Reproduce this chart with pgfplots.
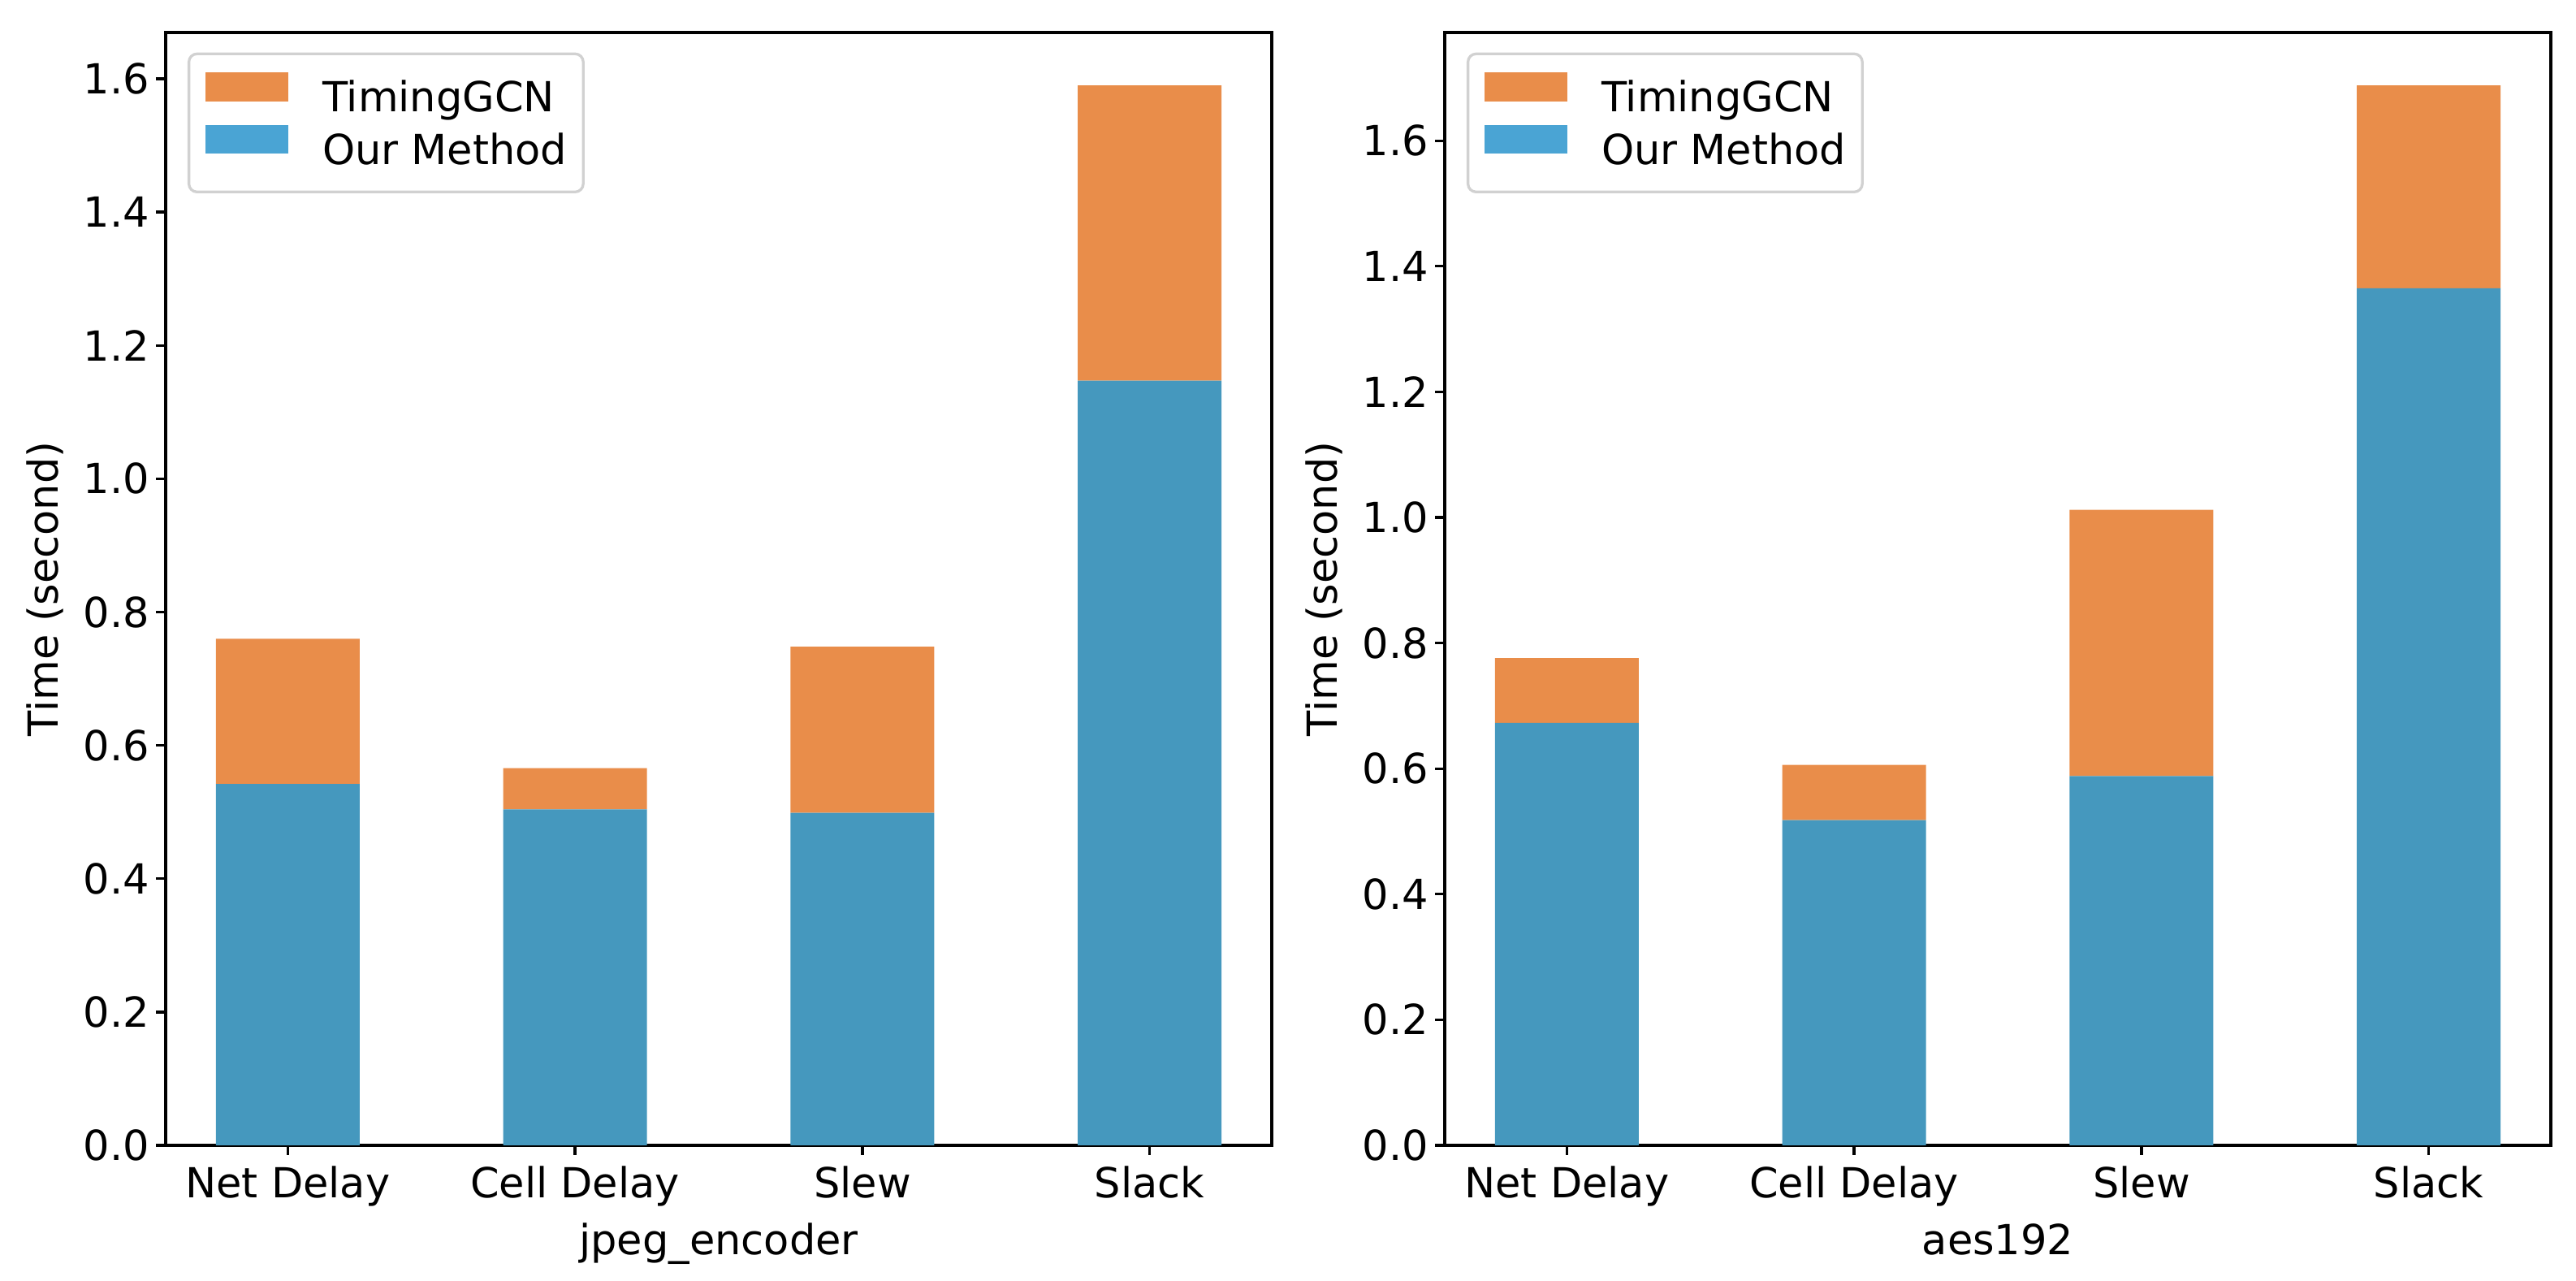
\documentclass[border=0pt]{standalone}
\usepackage{fontspec}
\setmainfont{DejaVu Sans}
\usepackage{pgfplots}
\pgfplotsset{compat=1.18}

\definecolor{ourblue}{HTML}{4598BE}
\definecolor{ourblueL}{HTML}{4AA4D4}
\definecolor{gcnorange}{HTML}{E98D4A}

\pgfplotsset{
    ,patch/.style={legend image code/.code={%
        \fill[##1,draw=none,sharp corners] (0pt,0pt) rectangle (20.4pt,7.1pt);
        \path (28.6pt,0pt);}}
    ,panel/.style={
        ,scale only axis
        ,width=272.4pt,height=274pt
        ,font=\fontsize{10.2}{12}\selectfont
        ,xmin=-0.425,xmax=3.425,ymin=0
        ,ybar stacked,bar width=0.5
        ,xtick={0,1,2,3}
        ,xticklabels={Net Delay,Cell Delay,Slew,Slack}
        ,ytick={0,0.2,0.4,0.6,0.8,1.0,1.2,1.4,1.6}
        ,tick align=outside,xtick pos=bottom,ytick pos=left
        ,major tick length=2.4pt
        ,every tick/.style={black,line width=0.66pt}
        ,axis line style={line width=0.66pt}
        ,xticklabel style={anchor=base,yshift=-10.6pt}
        ,yticklabel style={inner sep=0pt,xshift=-1.4pt,
            /pgf/number format/.cd,fixed,fixed zerofill,precision=1,assume math mode=true}
        ,xlabel style={at={(axis description cs:0.5,-0.0985)},anchor=base}
        ,ylabel style={at={(axis description cs:-0.1094,0.5)},anchor=center}
        ,ylabel={Time (second)}
        ,legend cell align=left
        ,legend style={at={(0.0198,0.982)},anchor=north west,
            draw=black!18,line width=0.66pt,rounded corners=2pt,
            fill=white,inner xsep=4pt,inner ysep=4.6pt,row sep=1pt,
            nodes={inner sep=0pt,text height=7.4pt,text depth=2.2pt}}
        }
    }

\begin{document}
\begin{tikzpicture}
\path[use as bounding box] (-40.8pt,-33.4pt) rectangle (593.6pt,282pt);

\begin{axis}[panel,at={(0pt,0pt)},anchor=south west,
    xlabel={jpeg\_encoder},ymax=1.6695]
\addlegendimage{patch,fill=gcnorange}
\addlegendentry{TimingGCN}
\addlegendimage{patch,fill=ourblueL}
\addlegendentry{Our Method}
% Our Method at the bottom, TimingGCN stacked on it
\addplot[fill=ourblue,draw=none,forget plot] coordinates {(0,0.542) (1,0.504) (2,0.499) (3,1.147)};
\addplot[fill=gcnorange,draw=none,forget plot] coordinates {(0,0.218) (1,0.062) (2,0.249) (3,0.443)};
\end{axis}

\begin{axis}[panel,at={(315pt,0pt)},anchor=south west,
    xlabel={aes192},ymax=1.7724]
\addlegendimage{patch,fill=gcnorange}
\addlegendentry{TimingGCN}
\addlegendimage{patch,fill=ourblueL}
\addlegendentry{Our Method}
\addplot[fill=ourblue,draw=none,forget plot] coordinates {(0,0.673) (1,0.518) (2,0.588) (3,1.365)};
\addplot[fill=gcnorange,draw=none,forget plot] coordinates {(0,0.103) (1,0.088) (2,0.424) (3,0.323)};
\end{axis}
\end{tikzpicture}
\end{document}
